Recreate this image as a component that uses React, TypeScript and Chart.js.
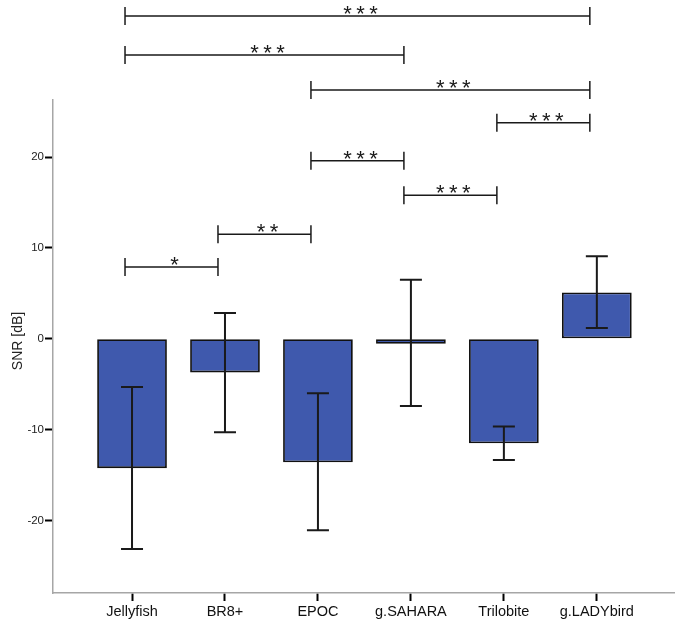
import React, { useRef, useEffect } from 'react';
import { Chart, registerables } from 'chart.js';

Chart.register(...registerables);

const categories = ['Jellyfish', 'BR8+', 'EPOC', 'g.SAHARA', 'Trilobite', 'g.LADYbird'];
const meanSnr = [-14.25, -3.7, -13.6, -0.55, -11.5, 5.1];
const errHigh = [-5.3, 2.85, -6.0, 6.5, -9.65, 9.1];
const errLow = [-23.15, -10.3, -21.1, -7.4, -13.35, 1.2];
const yTicks = [-20, -10, 0, 10, 20];

// significance brackets: [from category, to category, level in dB, label]
const brackets: Array<[number, number, number, string]> = [
    [0, 1, 7.9, '*'],
    [1, 2, 11.5, '**'],
    [3, 4, 15.8, '***'],
    [2, 3, 19.6, '***'],
    [4, 5, 23.8, '***'],
    [2, 5, 27.4, '***'],
    [0, 3, 31.25, '***'],
    [0, 5, 35.55, '***'],
];

const FONT = '"Liberation Sans", Arial, sans-serif';

const annotations = {
    id: 'annotations',
    afterDatasetsDraw(chart: any) {
        const { ctx, scales } = chart;
        const x = scales.x;
        const y = scales.y;
        ctx.save();
        ctx.strokeStyle = '#1a1a1a';
        ctx.lineWidth = 2;
        meanSnr.forEach((_, i) => {
            const px = x.getPixelForValue(i);
            const top = y.getPixelForValue(errHigh[i]);
            const bot = y.getPixelForValue(errLow[i]);
            ctx.beginPath();
            ctx.moveTo(px, top);
            ctx.lineTo(px, bot);
            ctx.moveTo(px - 11, top);
            ctx.lineTo(px + 11, top);
            ctx.moveTo(px - 11, bot);
            ctx.lineTo(px + 11, bot);
            ctx.stroke();
        });

        ctx.lineWidth = 1.5;
        ctx.fillStyle = '#1a1a1a';
        ctx.font = '22px ' + FONT;
        ctx.textAlign = 'center';
        ctx.textBaseline = 'alphabetic';
        brackets.forEach(([a, b, level, label]) => {
            const x1 = x.getPixelForValue(a) - 7;
            const x2 = x.getPixelForValue(b) - 7;
            const py = y.getPixelForValue(level);
            ctx.beginPath();
            ctx.moveTo(x1, py);
            ctx.lineTo(x2, py);
            ctx.moveTo(x1, py - 9);
            ctx.lineTo(x1, py + 9);
            ctx.moveTo(x2, py - 9);
            ctx.lineTo(x2, py + 9);
            ctx.stroke();
            const mid = (x1 + x2) / 2 + 3;
            const n = label.length;
            for (let k = 0; k < n; k++) {
                ctx.fillText('*', mid + (k - (n - 1) / 2) * 13, py + 5);
            }
        });

        // y-axis title
        ctx.font = '14px ' + FONT;
        ctx.fillStyle = '#222';
        ctx.textBaseline = 'middle';
        ctx.translate(18, 341);
        ctx.rotate(-Math.PI / 2);
        ctx.fillText('SNR [dB]', 0, 0);
        ctx.restore();
    },
};

const App: React.FC = () => {
    const canvasRef = useRef<HTMLCanvasElement>(null);

    useEffect(() => {
        document.body.style.margin = '0';
        if (!canvasRef.current) return;

        const chart = new Chart(canvasRef.current, {
            type: 'bar',
            data: {
                datasets: [
                    {
                        data: meanSnr.map((v, i) => ({ x: i, y: v })),
                        backgroundColor: '#3f59ad',
                        borderColor: '#111',
                        borderWidth: 1.8,
                        borderSkipped: false,
                        barPercentage: 0.75,
                        categoryPercentage: 1,
                    },
                ],
            },
            options: {
                animation: false,
                responsive: true,
                maintainAspectRatio: false,
                layout: { padding: { top: 100, right: 6, left: 0, bottom: 0 } },
                plugins: {
                    legend: { display: false },
                    tooltip: { enabled: false },
                },
                scales: {
                    x: {
                        type: 'linear',
                        min: -0.85,
                        max: 5.83,
                        offset: false,
                        afterBuildTicks: (scale: any) => {
                            scale.ticks = categories.map((_, i) => ({ value: i }));
                        },
                        afterFit: (scale: any) => {
                            scale.height = 29;
                        },
                        ticks: {
                            autoSkip: false,
                            maxRotation: 0,
                            padding: 2,
                            color: '#111',
                            font: { family: FONT, size: 14.5 },
                            callback: (v: any) => categories[v] ?? '',
                        },
                        grid: {
                            offset: false,
                            drawOnChartArea: false,
                            drawTicks: true,
                            tickLength: 8,
                            tickColor: '#000',
                            tickWidth: 2,
                        },
                        border: { color: '#a6a6a6', width: 1.5 },
                    },
                    y: {
                        min: -28,
                        max: 26.3,
                        afterBuildTicks: (scale: any) => {
                            scale.ticks = yTicks.map((v) => ({ value: v }));
                        },
                        afterFit: (scale: any) => {
                            scale.width = 53;
                        },
                        ticks: {
                            padding: 1,
                            color: '#222',
                            font: { family: FONT, size: 11.5 },
                        },
                        grid: {
                            drawOnChartArea: false,
                            drawTicks: true,
                            tickLength: 8,
                            tickColor: '#000',
                            tickWidth: 2,
                        },
                        border: { color: '#a6a6a6', width: 1.5 },
                    },
                },
            },
            plugins: [annotations],
        });

        return () => chart.destroy();
    }, []);

    return (
        <div style={{ width: 680, height: 622, position: 'relative', background: '#fff' }}>
            <canvas ref={canvasRef}></canvas>
        </div>
    );
};

export default App;
